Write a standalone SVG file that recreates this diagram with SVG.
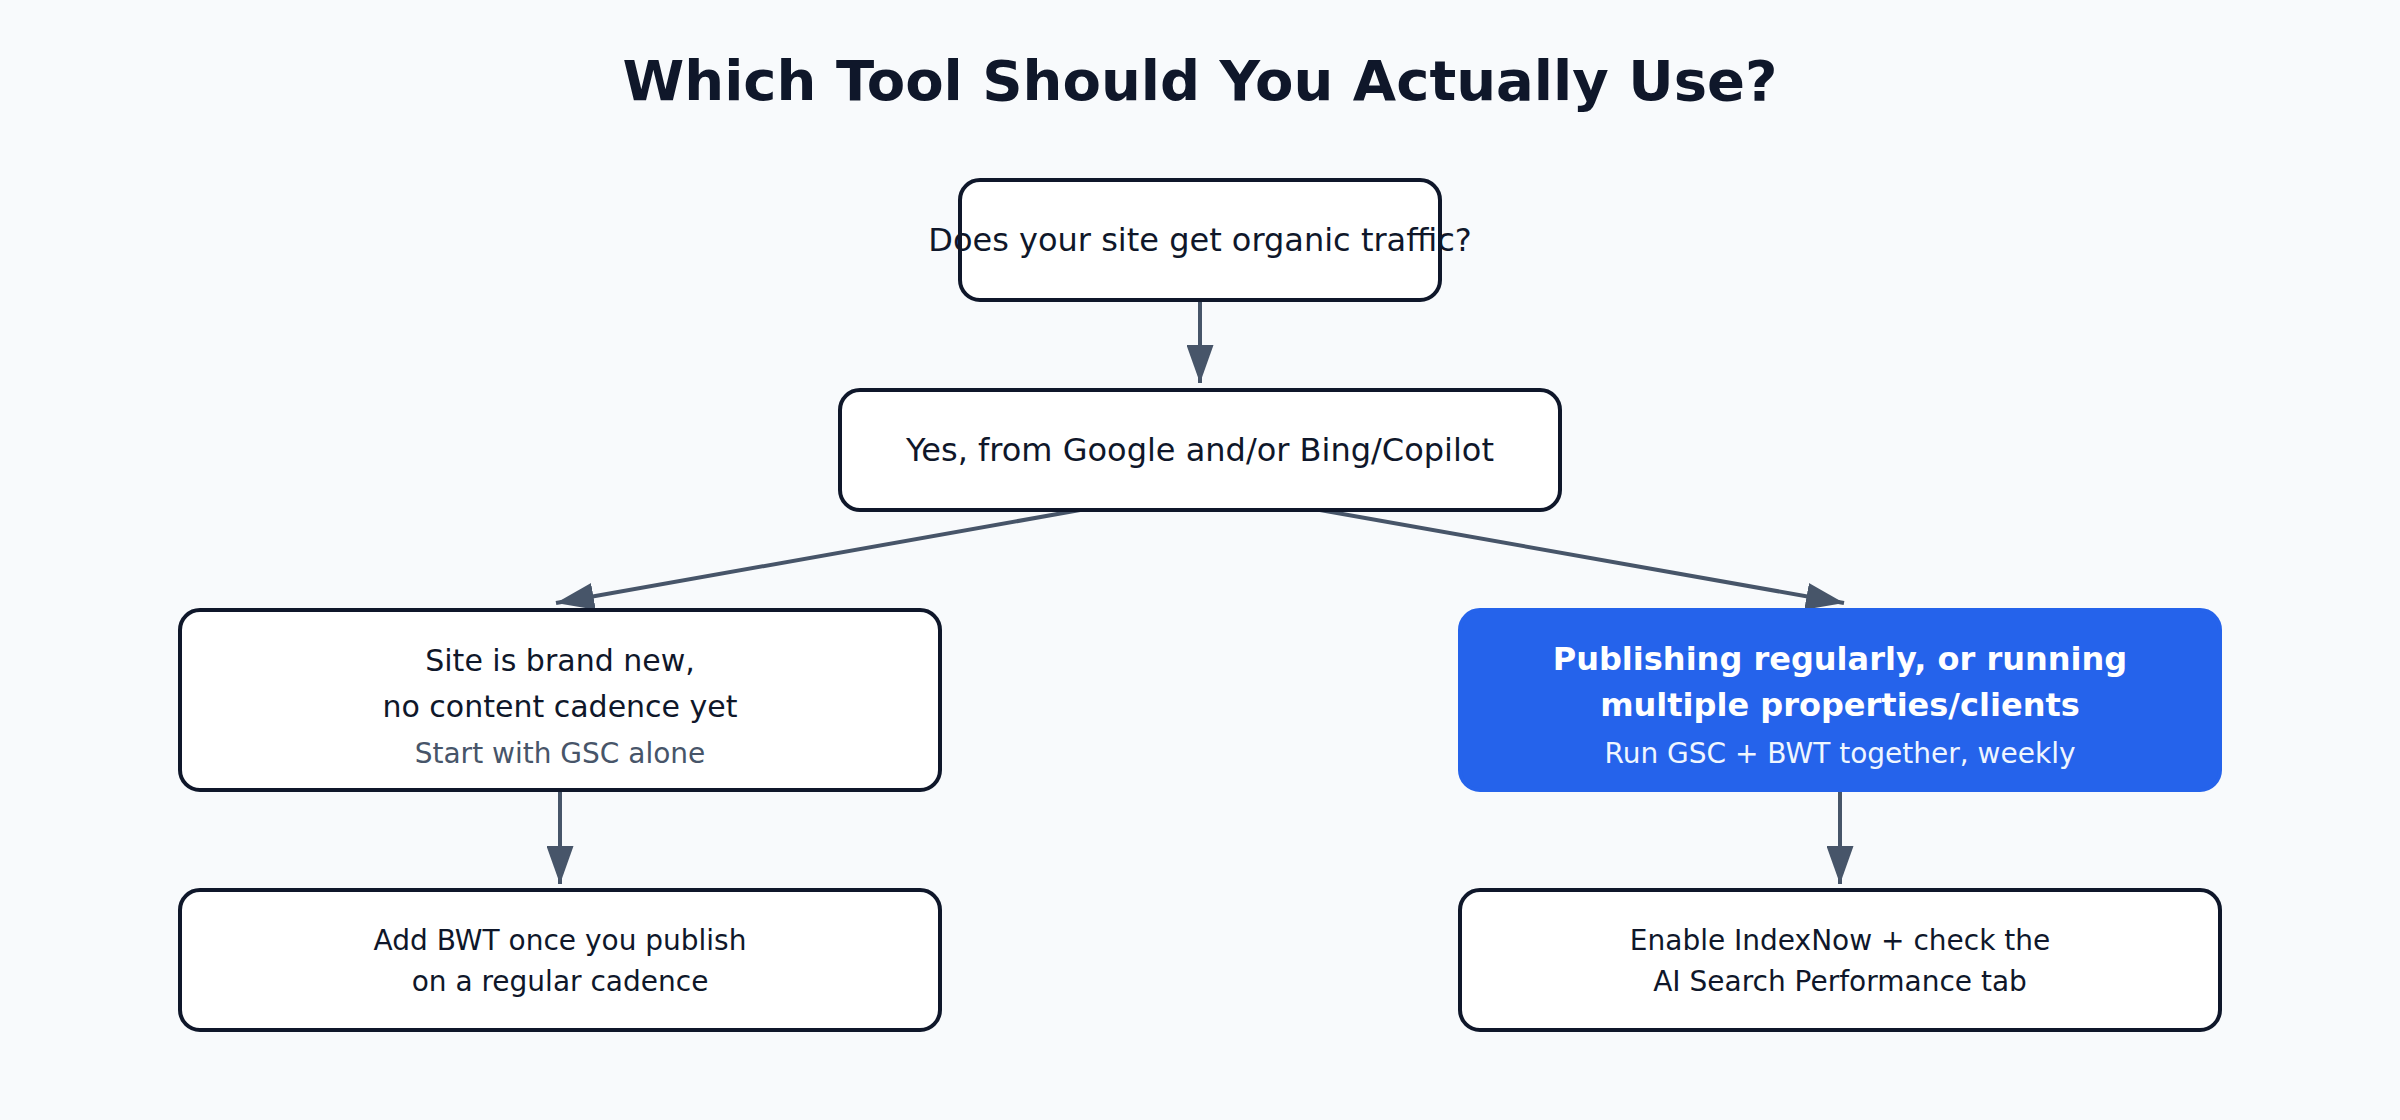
<svg xmlns="http://www.w3.org/2000/svg" width="2400" height="1120" viewBox="0 0 2400 1120">
<style>
.bg{fill:#f8fafc}
.node rect{fill:#ffffff;stroke:#0f172a;stroke-width:4}
.node.hl rect{fill:#2563eb;stroke:#2563eb}
text{font-family:"DejaVu Sans","Liberation Sans",sans-serif;text-anchor:middle;dominant-baseline:central;fill:#0f172a}
.title{font-size:56px;font-weight:bold}
.t32{font-size:32px}
.t30{font-size:30px}
.t28{font-size:28px}
.sub{font-size:28px;fill:#475569}
.hl text{fill:#ffffff}
.hl .b{font-weight:bold;font-size:32px}
.hl .s{font-size:28px;fill:#eff6ff}
.edge{stroke:#475569;stroke-width:4;fill:none;marker-end:url(#ah)}
</style>
<defs>
<marker id="ah" markerUnits="userSpaceOnUse" markerWidth="38" markerHeight="27" refX="38" refY="13.5" orient="auto">
<path d="M0,0 L38,13.5 L0,27 z" fill="#475569"/>
</marker>
</defs>
<rect class="bg" x="0" y="0" width="2400" height="1120"/>
<text class="title" x="1200" y="80">Which Tool Should You Actually Use?</text>
<g id="connectors">
<line class="edge" x1="1200" y1="300" x2="1200" y2="383"/>
<line class="edge" x1="1080" y1="510" x2="556" y2="603"/>
<line class="edge" x1="1320" y1="510" x2="1844" y2="603"/>
<line class="edge" x1="560" y1="790" x2="560" y2="884"/>
<line class="edge" x1="1840" y1="790" x2="1840" y2="884"/>
</g>
<g id="n-question" class="node">
<rect x="960" y="180" width="480" height="120" rx="20"/>
<text class="t32" x="1200" y="240">Does your site get organic traffic?</text>
</g>
<g id="n-yes" class="node">
<rect x="840" y="390" width="720" height="120" rx="20"/>
<text class="t32" x="1200" y="450">Yes, from Google and/or Bing/Copilot</text>
</g>
<g id="n-new" class="node">
<rect x="180" y="610" width="760" height="180" rx="20"/>
<text class="t30" x="560" y="660">Site is brand new,</text>
<text class="t30" x="560" y="706">no content cadence yet</text>
<text class="sub" x="560" y="753">Start with GSC alone</text>
</g>
<g id="n-publishing" class="node hl">
<rect x="1460" y="610" width="760" height="180" rx="20"/>
<text class="b" x="1840" y="659">Publishing regularly, or running</text>
<text class="b" x="1840" y="705">multiple properties/clients</text>
<text class="s" x="1840" y="753">Run GSC + BWT together, weekly</text>
</g>
<g id="n-addbwt" class="node">
<rect x="180" y="890" width="760" height="140" rx="20"/>
<text class="t28" x="560" y="940">Add BWT once you publish</text>
<text class="t28" x="560" y="981">on a regular cadence</text>
</g>
<g id="n-indexnow" class="node">
<rect x="1460" y="890" width="760" height="140" rx="20"/>
<text class="t28" x="1840" y="940">Enable IndexNow + check the</text>
<text class="t28" x="1840" y="981">AI Search Performance tab</text>
</g>
</svg>
